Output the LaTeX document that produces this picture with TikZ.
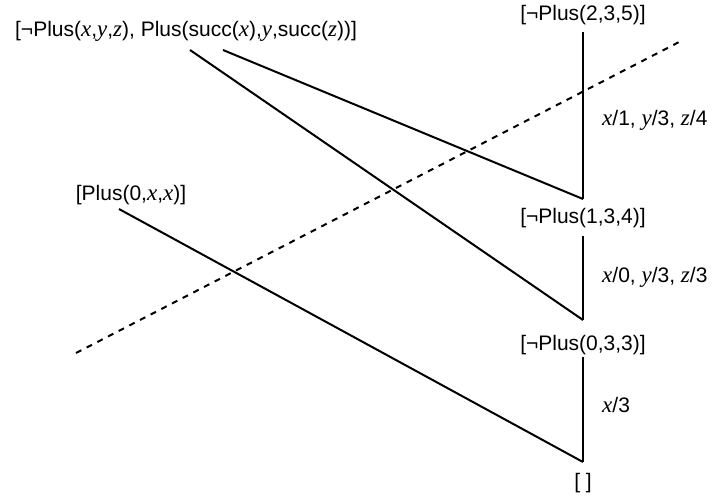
\documentclass[tikz,border=0pt]{standalone}
\usepackage{fontspec}
\setmainfont{Liberation Sans}
\newfontfamily\tmsfont{Liberation Serif}
\newcommand\vv[1]{{\tmsfont\itshape\fontsize{23}{22}\selectfont #1}}
\begin{document}
\begin{tikzpicture}[x=1pt,y=-1pt,
  lbl/.style={font=\fontsize{21}{22}\selectfont, inner sep=0pt},
  sub/.style={font=\fontsize{21}{22}\selectfont, inner sep=0pt, anchor=west},
  edge/.style={line width=2pt},
  cut/.style={line width=2pt, dash pattern=on 6pt off 6pt}]
\useasboundingbox (0,0) rectangle (714,499);
% clauses
\node[lbl] (c235) at (583,15) {[¬Plus(2,3,5)]};
\node[lbl] (c134) at (583,218) {[¬Plus(1,3,4)]};
\node[lbl] (c033) at (583,345) {[¬Plus(0,3,3)]};
\node[lbl] (cnil) at (583,483) {[ ]};
\node[lbl] (rule) at (186,31) {[¬Plus(\vv{x},\vv{y},\vv{z}), Plus(succ(\vv{x}),\vv{y},succ(\vv{z}))]};
\node[lbl] (fact) at (131,195) {[Plus(0,\vv{x},\vv{x})]};
% connector end points
\coordinate (r1) at (190,50);
\coordinate (r2) at (223,50);
\coordinate (f1) at (119,209);
\coordinate (a1) at (583,32);
\coordinate (a2) at (583,199);
\coordinate (b1) at (583,236);
\coordinate (b2) at (583,320);
\coordinate (d1) at (583,357);
\coordinate (d2) at (583,462);
\coordinate (cutA) at (76,353);
\coordinate (cutB) at (683,40);
% edges
\draw[edge] (a1) -- (a2);
\draw[edge] (b1) -- (b2);
\draw[edge] (d1) -- (d2);
\draw[edge] (r2) -- (a2);
\draw[edge] (r1) -- (b2);
\draw[edge] (f1) -- (d2);
\draw[cut] (cutA) -- (cutB);
% substitutions
\node[sub] (s1) at (602,120) {\vv{x}/1, \vv{y}/3, \vv{z}/4};
\node[sub] (s2) at (602,277) {\vv{x}/0, \vv{y}/3, \vv{z}/3};
\node[sub] (s3) at (602,405) {\vv{x}/3};
\end{tikzpicture}
\end{document}
